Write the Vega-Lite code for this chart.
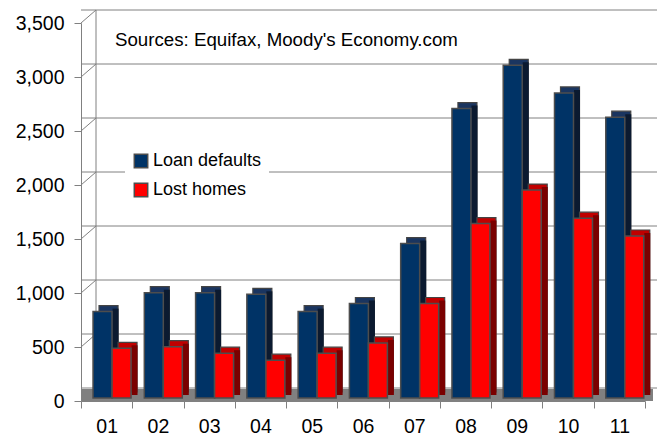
{
  "$schema": "https://vega.github.io/schema/vega-lite/v6.json",
  "width": 564,
  "height": 378,
  "autosize": {"type": "none"},
  "padding": {"left": 81, "top": 23, "right": 12, "bottom": 35},
  "background": "white",
  "config": {
    "view": {"stroke": null},
    "font": "Liberation Sans",
    "axis": {"grid": false, "tickSize": 7, "tickColor": "#808080", "domainColor": "#808080", "labelFontSize": 19.5, "labelFont": "Liberation Sans", "labelColor": "black"},
    "axisX": {"labelAngle": 0, "tickBand": "extent", "labelPadding": 9},
    "axisY": {"labelPadding": 10, "format": ",.0f"}
  },
  "title": {"text": "Sources: Equifax, Moody's Economy.com", "anchor": "start", "frame": "group", "orient": "top", "offset": -40, "dx": 34, "fontSize": 18.7, "fontWeight": "normal", "font": "Liberation Sans", "color": "black"},
  "data": {
    "values": [
      {"year": "01", "series": "Loan defaults", "value": 800},
      {"year": "01", "series": "Lost homes", "value": 460},
      {"year": "02", "series": "Loan defaults", "value": 975},
      {"year": "02", "series": "Lost homes", "value": 475},
      {"year": "03", "series": "Loan defaults", "value": 975},
      {"year": "03", "series": "Lost homes", "value": 415},
      {"year": "04", "series": "Loan defaults", "value": 960},
      {"year": "04", "series": "Lost homes", "value": 350},
      {"year": "05", "series": "Loan defaults", "value": 800},
      {"year": "05", "series": "Lost homes", "value": 415},
      {"year": "06", "series": "Loan defaults", "value": 875},
      {"year": "06", "series": "Lost homes", "value": 510},
      {"year": "07", "series": "Loan defaults", "value": 1430},
      {"year": "07", "series": "Lost homes", "value": 875},
      {"year": "08", "series": "Loan defaults", "value": 2680},
      {"year": "08", "series": "Lost homes", "value": 1615},
      {"year": "09", "series": "Loan defaults", "value": 3080},
      {"year": "09", "series": "Lost homes", "value": 1925},
      {"year": "10", "series": "Loan defaults", "value": 2825},
      {"year": "10", "series": "Lost homes", "value": 1665},
      {"year": "11", "series": "Loan defaults", "value": 2600},
      {"year": "11", "series": "Lost homes", "value": 1500}
    ]
  },
  "layer": [
    {
      "data": {"values": [{"v": 0}, {"v": 500}, {"v": 1000}, {"v": 1500}, {"v": 2000}, {"v": 2500}, {"v": 3000}, {"v": 3500}]},
      "mark": {"type": "rule", "color": "#808080", "strokeWidth": 1, "xOffset": 15, "x2Offset": 15, "yOffset": -13},
      "encoding": {
        "y": {"field": "v", "type": "quantitative", "scale": {"domain": [0, 3500], "nice": false}, "axis": {"title": null}}
      }
    },
    {
      "data": {"values": [{"v": 0}, {"v": 500}, {"v": 1000}, {"v": 1500}, {"v": 2000}, {"v": 2500}, {"v": 3000}, {"v": 3500}]},
      "mark": {"type": "rule", "color": "#808080", "strokeWidth": 1, "x2Offset": 15, "y2Offset": -13},
      "encoding": {
        "x": {"value": 0},
        "x2": {"value": 0},
        "y": {"field": "v", "type": "quantitative", "axis": {"title": null}},
        "y2": {"field": "v"}
      }
    },
    {
      "data": {"values": [{"v0": 0, "v1": 3500}]},
      "mark": {"type": "rule", "color": "#808080", "strokeWidth": 1, "xOffset": 15, "yOffset": -13, "y2Offset": -13},
      "encoding": {
        "x": {"value": 0},
        "y": {"field": "v0", "type": "quantitative", "axis": {"title": null}},
        "y2": {"field": "v1"}
      }
    },
    {
      "data": {"values": [{"v": 0}]},
      "mark": {"type": "rule", "color": "#808080", "strokeWidth": 12, "xOffset": 8, "x2Offset": 8, "yOffset": -6},
      "encoding": {
        "y": {"field": "v", "type": "quantitative", "axis": {"title": null}}
      }
    },
    {
      "transform": [{"filter": "datum.series == 'Loan defaults'"}],
      "mark": {"type": "bar", "width": 19, "xOffset": 1.9, "yOffset": -9, "y2Offset": -9, "fill": "#1a3560", "stroke": "#444444", "strokeWidth": 1.2},
      "encoding": {
        "x": {"field": "year", "type": "nominal", "scale": {"paddingInner": 0, "paddingOuter": 0}, "axis": {"title": null}},
        "y": {"field": "value", "type": "quantitative", "axis": {"title": null}}
      }
    },
    {
      "transform": [{"filter": "datum.series == 'Loan defaults'"}],
      "mark": {"type": "bar", "width": 6, "xOffset": 8.9, "yOffset": -6, "y2Offset": -6, "fill": "#0b1a30"},
      "encoding": {
        "x": {"field": "year", "type": "nominal", "axis": {"title": null}},
        "y": {"field": "value", "type": "quantitative", "axis": {"title": null}}
      }
    },
    {
      "transform": [{"filter": "datum.series == 'Lost homes'"}],
      "mark": {"type": "bar", "width": 19, "xOffset": 20.9, "yOffset": -9, "y2Offset": -9, "fill": "#c00000", "stroke": "#444444", "strokeWidth": 1.2},
      "encoding": {
        "x": {"field": "year", "type": "nominal", "axis": {"title": null}},
        "y": {"field": "value", "type": "quantitative", "axis": {"title": null}}
      }
    },
    {
      "transform": [{"filter": "datum.series == 'Lost homes'"}],
      "mark": {"type": "bar", "width": 6, "xOffset": 27.9, "yOffset": -6, "y2Offset": -6, "fill": "#7a0000"},
      "encoding": {
        "x": {"field": "year", "type": "nominal", "axis": {"title": null}},
        "y": {"field": "value", "type": "quantitative", "axis": {"title": null}}
      }
    },
    {
      "transform": [{"filter": "datum.series == 'Loan defaults'"}],
      "mark": {"type": "bar", "width": 19, "xOffset": -4.1, "yOffset": -3, "y2Offset": -3, "stroke": "#4d4d4d", "strokeWidth": 1.5},
      "encoding": {
        "x": {"field": "year", "type": "nominal", "axis": {"title": null}},
        "y": {"field": "value", "type": "quantitative", "axis": {"title": null}},
        "fill": {
          "field": "series", "type": "nominal",
          "scale": {"domain": ["Loan defaults", "Lost homes"], "range": ["#003366", "#ff0000"]},
          "legend": {"orient": "none", "legendX": 44, "legendY": 122, "title": null, "symbolType": "square", "symbolSize": 180, "symbolStrokeColor": "#333333", "symbolStrokeWidth": 1.5, "labelFontSize": 18, "labelFont": "Liberation Sans", "labelColor": "black", "fillColor": "white", "padding": 7, "rowPadding": 9, "labelOffset": 3}
        }
      }
    },
    {
      "transform": [{"filter": "datum.series == 'Lost homes'"}],
      "mark": {"type": "bar", "width": 19, "xOffset": 14.9, "yOffset": -3, "y2Offset": -3, "stroke": "#4d4d4d", "strokeWidth": 1.5},
      "encoding": {
        "x": {"field": "year", "type": "nominal", "axis": {"title": null}},
        "y": {"field": "value", "type": "quantitative", "axis": {"title": null}},
        "fill": {"field": "series", "type": "nominal"}
      }
    }
  ]
}
